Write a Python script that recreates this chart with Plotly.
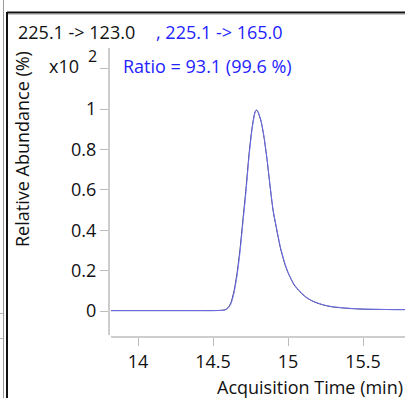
import plotly.graph_objects as go

# ---- data (values in units of x10^2 %) ----
time_min = [13.82, 14.0, 14.2, 14.4, 14.5, 14.55, 14.58, 14.60, 14.62, 14.64, 14.66, 14.68,
            14.70, 14.72, 14.74, 14.76, 14.78, 14.79, 14.80, 14.82, 14.84, 14.86, 14.88,
            14.90, 14.92, 14.95, 14.98, 15.0, 15.04, 15.08, 15.12, 15.16, 15.2, 15.25,
            15.3, 15.4, 15.5, 15.6, 15.7, 15.78]
abund_123 = [0.002, 0.002, 0.002, 0.002, 0.002, 0.003, 0.006, 0.016, 0.042, 0.098, 0.185, 0.305,
             0.455, 0.605, 0.775, 0.905, 0.985, 0.995, 0.985, 0.94, 0.86, 0.75, 0.62,
             0.50, 0.42, 0.31, 0.23, 0.19, 0.13, 0.095, 0.068, 0.05, 0.038, 0.027,
             0.02, 0.013, 0.009, 0.008, 0.007, 0.007]
abund_165 = [0.002, 0.002, 0.002, 0.002, 0.002, 0.003, 0.005, 0.013, 0.035, 0.088, 0.172, 0.29,
             0.44, 0.59, 0.762, 0.897, 0.982, 0.995, 0.987, 0.943, 0.865, 0.755, 0.625,
             0.505, 0.425, 0.315, 0.235, 0.193, 0.133, 0.097, 0.07, 0.051, 0.039, 0.028,
             0.021, 0.014, 0.01, 0.008, 0.007, 0.007]
ytick_vals = [0, 0.2, 0.4, 0.6, 0.8, 1.0, 1.2]
ytick_text = ["0", "0.2", "0.4", "0.6", "0.8", "1", ""]
xtick_vals = [14, 14.5, 15, 15.5]
xtick_text = ["14", "14.5", "15", "15.5"]

W, H = 405, 398
L, R, T, B = 109, 0, 48, 61
PW, PH = W - L - R, H - T - B

def px(x):
    return (x - L) / PW

def py(y):
    return (H - B - y) / PH

FONT = "Open Sans"
FS = 18
BLUE = "#2323ff"
TXT = "#111111"

fig = go.Figure()
fig.add_trace(go.Scatter(x=time_min, y=abund_123, mode="lines",
                         line=dict(color="#262660", width=1, shape="spline", smoothing=0.6),
                         hoverinfo="skip", showlegend=False))
fig.add_trace(go.Scatter(x=time_min, y=abund_165, mode="lines",
                         line=dict(color="rgba(120,120,255,0.85)", width=1, shape="spline", smoothing=0.6),
                         hoverinfo="skip", showlegend=False))

shapes = [
    dict(type="line", xref="paper", yref="paper", x0=0, x1=0, y0=py(335), y1=1,
         line=dict(color="#bdbdbd", width=1.5)),
    dict(type="line", xref="paper", yref="paper", x0=px(111), x1=1, y0=0, y1=0,
         line=dict(color="#bdbdbd", width=1.5)),
    dict(type="line", xref="paper", yref="paper", x0=px(7), x1=px(7), y0=py(398), y1=py(12),
         line=dict(color="#111111", width=2)),
    dict(type="line", xref="paper", yref="paper", x0=px(7), x1=px(405), y0=py(12.5), y1=py(12.5),
         line=dict(color="#111111", width=2)),
    dict(type="line", xref="paper", yref="paper", x0=px(8), x1=px(405), y0=py(14.5), y1=py(14.5),
         line=dict(color="#c8c8c8", width=1)),
    dict(type="line", xref="paper", yref="paper", x0=px(3.5), x1=px(3.5), y0=py(398), y1=py(0),
         line=dict(color="#9a9a9a", width=1)),
    dict(type="line", xref="paper", yref="paper", x0=px(0), x1=px(3), y0=py(313.5), y1=py(313.5),
         line=dict(color="#bbbbbb", width=1)),
    dict(type="line", xref="paper", yref="paper", x0=px(0), x1=px(3), y0=py(338.5), y1=py(338.5),
         line=dict(color="#bbbbbb", width=1)),
]

annotations = [
    dict(text="225.1 -> 123.0", x=px(16), y=py(32), xref="paper", yref="paper",
         xanchor="left", yanchor="middle", showarrow=False,
         font=dict(family=FONT, size=FS, color=TXT)),
    dict(text=", 225.1 -> 165.0", x=px(154), y=py(32), xref="paper", yref="paper",
         xanchor="left", yanchor="middle", showarrow=False,
         font=dict(family=FONT, size=FS, color=BLUE)),
    dict(text="Ratio = 93.1 (99.6 %)", x=px(121), y=py(66), xref="paper", yref="paper",
         xanchor="left", yanchor="middle", showarrow=False,
         font=dict(family=FONT, size=FS, color=BLUE)),
    dict(text="x10", x=px(47), y=py(66), xref="paper", yref="paper",
         xanchor="left", yanchor="middle", showarrow=False,
         font=dict(family=FONT, size=FS, color=TXT)),
    dict(text="2", x=px(86), y=py(56), xref="paper", yref="paper",
         xanchor="left", yanchor="middle", showarrow=False,
         font=dict(family=FONT, size=16, color=TXT)),
    dict(text="Relative Abundance (%)", x=px(22), y=py(149), xref="paper", yref="paper",
         xanchor="center", yanchor="middle", textangle=-90, showarrow=False,
         font=dict(family=FONT, size=FS, color=TXT)),
    dict(text="Acquisition Time (min)", x=px(405), y=py(387), xref="paper", yref="paper",
         xanchor="right", yanchor="middle", showarrow=False,
         font=dict(family=FONT, size=FS, color=TXT)),
]

fig.update_layout(
    width=W, height=H,
    margin=dict(l=L, r=R, t=T, b=B, pad=0),
    paper_bgcolor="white", plot_bgcolor="white",
    shapes=shapes, annotations=annotations,
    xaxis=dict(range=[13.8067, 13.8067 + PW / 150.0], tickvals=xtick_vals, ticktext=xtick_text,
               showgrid=False, zeroline=False, showline=False,
               ticks="outside", ticklen=8, tickcolor="#bdbdbd", tickwidth=1,
               tickfont=dict(family=FONT, size=FS, color=TXT)),
    yaxis=dict(range=[-0.1287, -0.1287 + PH / 202.0], tickvals=ytick_vals, ticktext=ytick_text,
               showgrid=False, zeroline=False, showline=False,
               ticks="outside", ticklen=8, tickcolor="#bdbdbd", tickwidth=1,
               tickfont=dict(family=FONT, size=FS, color=TXT)),
)

fig.write_html("out.html")
